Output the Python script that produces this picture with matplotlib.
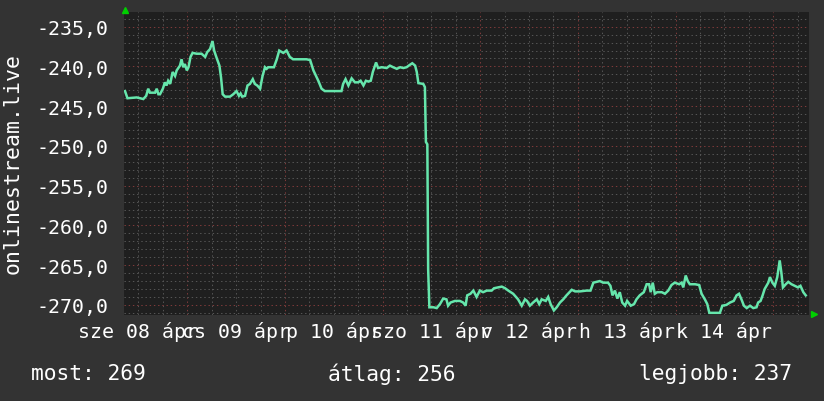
import matplotlib
matplotlib.use('Agg')
import matplotlib.pyplot as plt
import numpy as np

# hours since 2026-04-08 00:00 (sze 08 ápr)
hours = [8.7, 9.3, 11.6, 13.2, 13.9, 14.4, 14.8, 16.1, 16.5, 16.9, 17.3, 18.0,
         18.5, 18.9, 19.3, 19.8, 20.4, 21.0, 21.4, 22.2, 22.6, 23.0, 23.4, 23.9,
         24.3, 24.8, 25.3, 26.3, 27.5, 28.4, 28.9, 29.6, 30.2, 30.6, 31.2, 31.9,
         32.3, 32.7, 33.3, 34.5, 35.3, 36.1, 36.7, 37.1, 37.5, 38.2, 38.8, 39.4,
         40.1, 40.6, 41.2, 41.9, 42.5, 43.1, 43.5, 43.9, 45.3, 46.0, 46.6, 47.6,
         48.4, 49.2, 50.0, 53.3, 54.2, 55.0, 56.2, 57.0, 57.8, 61.9, 62.3, 62.9,
         63.6, 64.4, 65.2, 66.0, 66.6, 67.3, 67.9, 68.5, 69.1, 69.6, 70.4, 70.9,
         71.8, 73.0, 73.8, 74.6, 75.5, 76.3, 77.1, 77.9, 78.7, 79.3, 80.0, 80.4,
         80.8, 82.0, 82.4, 82.65, 83.0, 83.2, 83.5,
         84.5, 85.3, 86.1, 86.9, 87.7, 88.1, 88.7, 89.8, 91.0, 91.8, 92.4, 92.8,
         93.6, 94.3, 95.1, 95.9, 96.7, 97.6, 98.8, 99.4, 100.4, 101.3, 102.1, 102.9,
         104.1, 105.3, 106.2, 107.0, 107.5, 108.2, 109.0, 109.9, 110.5, 111.1, 112.1, 112.7,
         113.3, 114.1, 114.8, 115.6, 116.4, 117.2, 118.5, 119.3, 120.5, 122.1, 123.1, 123.8,
         124.6, 125.4, 126.2, 127.4, 128.0, 128.5, 129.1, 129.7, 130.3, 130.9, 131.6, 132.1,
         133.0, 133.8, 134.4, 135.2, 136.2, 136.9, 137.5, 137.9, 138.4, 138.9, 139.5, 140.6,
         141.4, 142.2, 143.0, 143.8, 144.9, 145.5, 145.9, 146.5, 147.0, 147.5, 148.8, 149.8,
         150.4, 151.2, 151.8, 152.3, 154.9, 155.5, 156.5, 157.4, 158.3, 159.0, 159.6, 160.2,
         160.8, 161.5, 162.3, 163.1, 163.9, 164.3, 164.9, 165.4, 165.9, 166.8, 167.2, 167.8,
         168.4, 169.0, 169.6, 170.0, 170.4, 171.1, 171.7, 172.5, 173.3, 174.1, 174.7, 175.4,
         176.0]
values = [-243.1, -244.0, -243.9, -244.1, -243.7, -242.8, -243.3, -243.3, -242.8, -243.5, -243.5, -242.8,
          -242.0, -242.4, -241.8, -242.2, -240.7, -241.2, -240.5, -239.9, -239.1, -240.1, -239.7, -240.5,
          -240.1, -238.8, -238.3, -238.4, -238.4, -238.8, -238.2, -237.8, -236.8, -238.0, -238.9, -239.9,
          -241.4, -243.5, -243.8, -243.8, -243.5, -243.1, -243.7, -243.4, -243.8, -243.7, -242.4, -242.2,
          -241.6, -242.2, -242.4, -242.8, -241.2, -240.1, -240.3, -240.1, -240.1, -239.1, -238.0, -238.3,
          -238.0, -238.8, -239.1, -239.1, -239.2, -240.5, -241.8, -242.8, -243.1, -243.1, -242.2, -241.6,
          -242.4, -241.5, -242.0, -242.0, -241.8, -242.4, -241.8, -241.9, -241.8, -240.7, -239.5, -240.2,
          -240.1, -240.2, -239.9, -240.1, -240.3, -240.1, -240.2, -240.1, -239.8, -239.6, -239.9, -240.7,
          -242.1, -242.2, -242.6, -249.5, -249.8, -265.5, -270.3,
          -270.3, -270.4, -269.9, -269.2, -269.3, -270.1, -269.7, -269.5, -269.5, -269.7, -270.1, -268.8,
          -268.6, -268.2, -269.0, -268.2, -268.4, -268.2, -268.2, -267.9, -267.8, -267.7, -267.9, -268.2,
          -268.6, -269.3, -270.1, -269.3, -269.5, -270.1, -269.7, -269.3, -269.9, -269.3, -269.5, -269.0,
          -269.9, -270.7, -270.3, -269.7, -269.3, -268.8, -268.1, -268.3, -268.3, -268.2, -268.2, -267.2,
          -267.1, -267.0, -267.2, -267.2, -267.6, -268.8, -268.2, -269.2, -268.4, -269.7, -270.1, -269.5,
          -270.1, -269.9, -269.3, -268.8, -268.4, -267.4, -267.4, -268.4, -267.2, -268.6, -268.4, -268.4,
          -268.6, -268.2, -267.5, -267.2, -267.4, -267.2, -267.8, -266.3, -267.0, -267.4, -267.4, -267.5,
          -268.6, -269.3, -269.9, -271.0, -271.0, -270.1, -270.0, -269.7, -269.5, -268.8, -268.6, -269.3,
          -270.1, -270.4, -270.1, -270.4, -270.3, -269.7, -269.5, -268.8, -268.0, -267.2, -266.5, -267.2,
          -267.6, -266.5, -264.4, -265.9, -267.8, -267.4, -267.1, -267.4, -267.6, -267.8, -267.6, -268.4,
          -268.8]

day_labels = ['sze 08 ápr', 'cs 09 ápr', 'p 10 ápr', 'szo 11 ápr',
              'v 12 ápr', 'h 13 ápr', 'k 14 ápr']
y_ticks = [-235, -240, -245, -250, -255, -260, -265, -270]
footer = ['most: 269', 'átlag: 256', 'legjobb: 237']
source_name = 'onlinestream.live'

W, H = 824, 402
BG = '#333333'
CANVAS = '#1f1f1f'
MINOR = '#555555'
MAJOR = '#7e3a3a'
LINE = '#66e6ac'
ARROW = '#00d000'
FONT = 'DejaVu Sans Mono'

plt.rcParams['axes.unicode_minus'] = False
plt.rcParams['font.family'] = FONT

fig = plt.figure(figsize=(W / 100, H / 100), dpi=100, facecolor=BG)
x0, x1, y0, y1 = 124, 809, 13.3, 316
ax = fig.add_axes([x0 / W, (H - y1) / H, (x1 - x0) / W, (y1 - y0) / H])
ax.set_facecolor(CANVAS)
for s in ax.spines.values():
    s.set_visible(False)

ax.set_xlim(8.45, 176.8)
ax.set_ylim(-271.27, -233.19)

# grid: red dotted at midnight / every 5, grey dotted every 6h / every 1
dots = (0, (1.4, 2.8))
ax.set_xticks(np.arange(24, 177, 24))
ax.set_xticks(np.arange(12, 177, 6), minor=True)
ax.set_yticks(y_ticks)
ax.set_yticks(np.arange(-271, -233, 1), minor=True)
ax.grid(which='minor', color=MINOR, linestyle=dots, linewidth=0.72)
ax.grid(which='major', color=MAJOR, linestyle=dots, linewidth=0.72)
ax.set_axisbelow(True)
ax.tick_params(which='both', length=0)
ax.tick_params(axis='x', labelbottom=False)
ax.set_yticklabels([f'{v:.1f}'.replace('.', ',') for v in y_ticks],
                   fontsize=14.3, color='white')
ax.tick_params(axis='y', pad=11)

ax.plot(hours, values, color=LINE, linewidth=1.8, solid_joinstyle='miter', zorder=3)

# day labels centered on noon
trans = ax.get_xaxis_transform()
for i, lab in enumerate(day_labels):
    ax.text(12 + 24 * i, -0.0727, lab, transform=trans,
            ha='center', va='baseline', fontsize=14.3, color='white', clip_on=False)

# axis arrows
ax.plot([0.0015], [1.008], marker='^', markersize=5, color=ARROW,
        transform=ax.transAxes, clip_on=False)
ax.plot([1.0066], [0.004], marker='>', markersize=5, color=ARROW,
        transform=ax.transAxes, clip_on=False)

fig.text(13 / W, (H - 164) / H, source_name, rotation=90, ha='center', va='center',
         fontsize=15.5, color='white')

fy = (H - 374) / H
fig.text(31 / W, fy, footer[0], ha='left', va='center', fontsize=15.3, color='white')
fig.text(392 / W, fy, footer[1], ha='center', va='center', fontsize=15.3, color='white')
fig.text(792 / W, fy, footer[2], ha='right', va='center', fontsize=15.3, color='white')

fig.savefig('out.png', dpi=100, facecolor=BG)
